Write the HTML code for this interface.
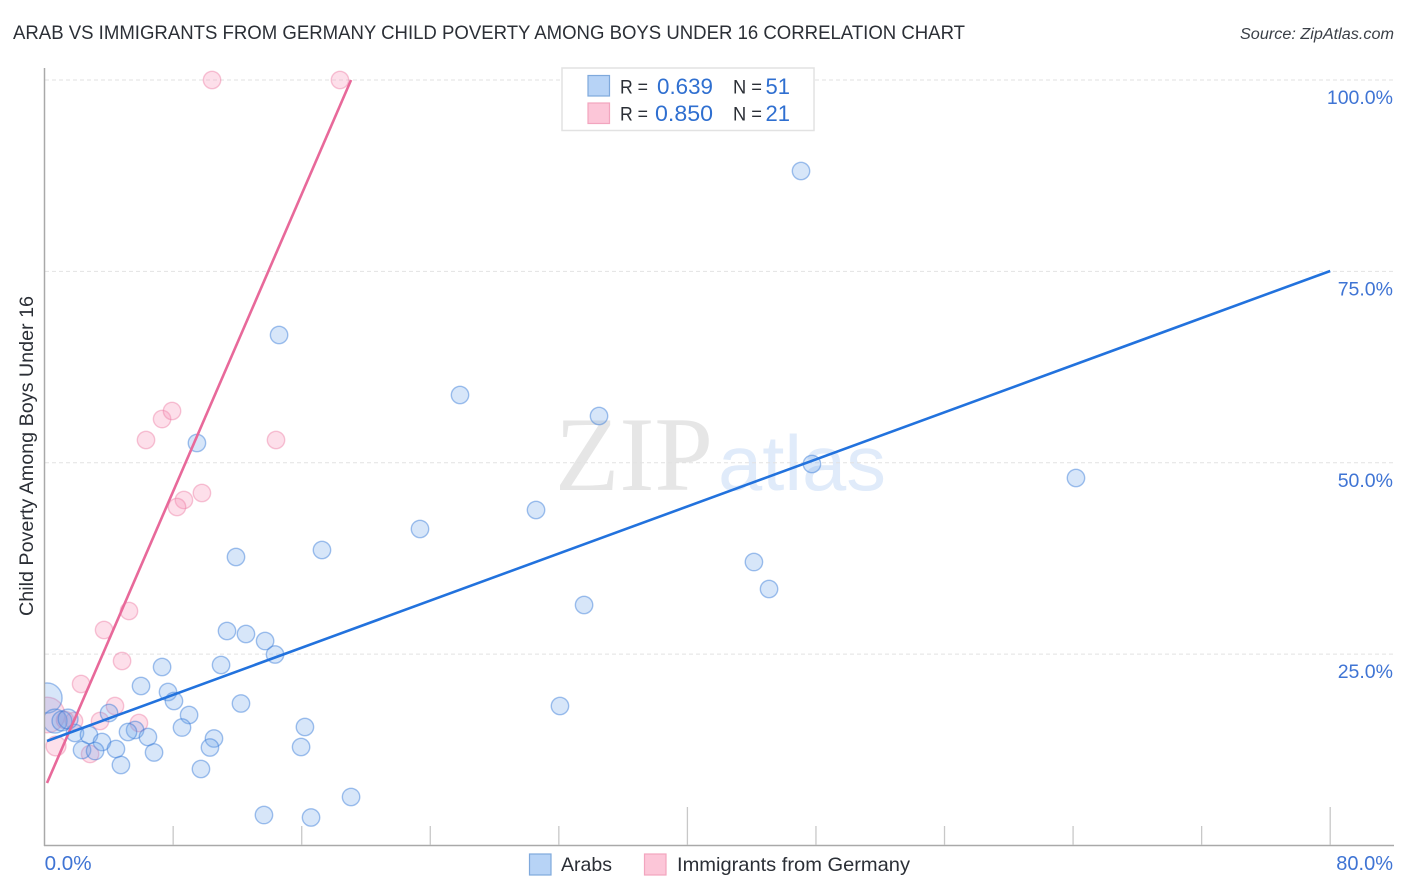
<!DOCTYPE html>
<html lang="en">
<head>
<meta charset="utf-8">
<title>Arab vs Immigrants from Germany Child Poverty Among Boys Under 16 Correlation Chart</title>
<style>
html,body{margin:0;padding:0;background:#fff;}
svg{display:block;font-family:"Liberation Sans",sans-serif;}
</style>
</head>
<body>
<svg id="chart" width="1406" height="892" viewBox="0 0 1406 892" xmlns="http://www.w3.org/2000/svg">
  <rect x="0" y="0" width="1406" height="892" fill="#ffffff"/>
  <text x="13" y="39" font-size="19.5" fill="#2b2f36" textLength="952" lengthAdjust="spacingAndGlyphs">ARAB VS IMMIGRANTS FROM GERMANY CHILD POVERTY AMONG BOYS UNDER 16 CORRELATION CHART</text>
  <text x="1394" y="39" font-size="15.5" font-style="italic" fill="#3a3f47" text-anchor="end" textLength="154" lengthAdjust="spacingAndGlyphs">Source: ZipAtlas.com</text>
  <g>
    <text x="555" y="490" font-family="'Liberation Serif',serif" font-size="106" fill="#e6e6e6" textLength="158" lengthAdjust="spacingAndGlyphs">ZIP</text>
    <text x="718" y="490" font-size="78" fill="#e0ebfa" textLength="168" lengthAdjust="spacingAndGlyphs">atlas</text>
  </g>
  <g id="grid"></g>
  <g id="marks"></g>
  <rect x="0" y="60" width="44.500" height="790" fill="#ffffff"/>
  <g id="axes"></g>
  <g id="trends"></g>
  <text transform="translate(33,456) rotate(-90)" font-size="19" fill="#2b2f36" text-anchor="middle" textLength="320" lengthAdjust="spacingAndGlyphs">Child Poverty Among Boys Under 16</text>

  <g>
    <rect x="562" y="68" width="252" height="62.5" fill="#ffffff" stroke="#e2e2e2" stroke-width="1.5"/>
    <rect x="588" y="75.5" width="21.5" height="20.5" fill="#b7d3f6" stroke="#7fa9dc" stroke-width="1.2"/>
    <rect x="588" y="103" width="21.5" height="20.5" fill="#fcc6d8" stroke="#f2a5bf" stroke-width="1.2"/>
    <text x="620" y="93.500" font-size="19.500" fill="#2b2f36" textLength="28" lengthAdjust="spacingAndGlyphs">R =</text>
    <text x="657" y="94" font-size="22" fill="#2f6fd0" textLength="56" lengthAdjust="spacingAndGlyphs">0.639</text>
    <text x="733" y="93.500" font-size="19.500" fill="#2b2f36" textLength="29" lengthAdjust="spacingAndGlyphs">N =</text>
    <text x="790" y="94" font-size="22" fill="#2f6fd0" text-anchor="end">51</text>
    <text x="620" y="120.500" font-size="19.500" fill="#2b2f36" textLength="28" lengthAdjust="spacingAndGlyphs">R =</text>
    <text x="655" y="121" font-size="22" fill="#2f6fd0" textLength="58" lengthAdjust="spacingAndGlyphs">0.850</text>
    <text x="733" y="120.500" font-size="19.500" fill="#2b2f36" textLength="29" lengthAdjust="spacingAndGlyphs">N =</text>
    <text x="790" y="121" font-size="22" fill="#2f6fd0" text-anchor="end">21</text>
  </g>

  <g>
    <rect x="529.500" y="854" width="21.500" height="21" fill="#b7d3f6" stroke="#7fa9dc" stroke-width="1.2"/>
    <text x="561" y="871" font-size="19.500" fill="#2b2f36" textLength="51" lengthAdjust="spacingAndGlyphs">Arabs</text>
    <rect x="644.500" y="854" width="21.500" height="21" fill="#fcc6d8" stroke="#f2a5bf" stroke-width="1.2"/>
    <text x="677" y="871" font-size="19.500" fill="#2b2f36" textLength="233" lengthAdjust="spacingAndGlyphs">Immigrants from Germany</text>
  </g>
</svg>
<script>
const xTickValues = [0, 8, 16, 24, 32, 40, 48, 56, 64, 72, 80];
const xMajorTicks = [40, 80];
const xEndLabels = ["0.0%", "80.0%"];
const yGridValues = [25, 50, 75, 100];
const yTickLabels = ["25.0%", "50.0%", "75.0%", "100.0%"];

const arabsX = [47.07,14.59,25.85,34.50,9.48,47.75,64.18,30.58,23.36,17.26,11.91,44.14,45.08,33.57,11.35,12.53,13.72,14.34,7.31,10.98,6.00,7.68,8.05,12.22,32.07,8.99,4.01,16.20,8.55,5.63,5.19,1.89,2.76,6.43,10.54,3.57,10.29,15.96,4.44,2.33,3.14,6.81,4.75,9.73,19.07,13.65,16.58,0.15,0.65,1.08,1.46];
const arabsY = [88.11,66.69,58.85,56.11,52.58,49.84,48.01,43.83,41.35,38.60,37.69,37.03,33.51,31.42,28.02,27.63,26.71,24.95,23.32,23.58,20.84,20.05,18.88,18.55,18.22,17.05,17.31,15.48,15.41,15.09,14.83,14.70,14.43,14.17,13.98,13.52,12.80,12.87,12.61,12.48,12.34,12.15,10.52,9.99,6.34,3.98,3.66,19.27,16.26,16.26,16.52];
const arabsWeight = [1,1,1,1,1,1,1,1,1,1,1,1,1,1,1,1,1,1,1,1,1,1,1,1,1,1,1,1,1,1,1,1,1,1,1,1,1,1,1,1,1,1,1,1,1,1,1,3,1.9,1.3,1.3];

const germanyX = [0.15,1.27,1.83,3.45,4.38,2.27,4.82,0.71,2.83,5.87,3.70,5.25,9.79,8.67,8.24,6.31,7.31,7.93,14.40,10.42,18.38];
const germanyY = [17.05,16.39,16.26,16.26,18.22,21.10,24.10,13.00,11.95,16.00,28.15,30.63,46.05,45.13,44.22,52.97,55.71,56.76,52.97,100,100];
const germanyWeight = [4.2,1,1,1,1,1,1,1.3,1,1,1,1,1,1,1,1,1,1,1,1,1];

const arabsTrendX = [0.15, 80];
const arabsTrendY = [13.65, 75.05];
const germanyTrendX = [0.15, 19.07];
const germanyTrendY = [8.16, 100];

const NS = "http://www.w3.org/2000/svg";
function xScale(v){ return 44.6 + v * 16.07; }
function yScale(v){ return 845.5 - v * 7.655; }
function radius(w){ return 8.7 * Math.sqrt(w); }
function make(tag, attrs, parent){
  const el = document.createElementNS(NS, tag);
  for (const k in attrs) el.setAttribute(k, attrs[k]);
  parent.appendChild(el);
  return el;
}
const grid = document.getElementById("grid");
const axes = document.getElementById("axes");
const marks = document.getElementById("marks");
const trends = document.getElementById("trends");

yGridValues.forEach(function(v, i){
  const line = make("line", {x1:45, x2:1394, y1:yScale(v), y2:yScale(v), stroke:"#e2e2e2", "stroke-width":1, "stroke-dasharray":"4 3"}, grid);
  
  
  const label = make("text", {x:1393, y:yScale(v) + 24, "font-size":19.5, fill:"#3f74d4", "text-anchor":"end"}, axes);
  label.textContent = yTickLabels[i];
  
  
});

const yAxis = make("line", {x1:44.5, x2:44.5, y1:68, y2:846, stroke:"#a9a9a9", "stroke-width":1.5}, axes);


const xAxis = make("line", {x1:44, x2:1394, y1:845.5, y2:845.5, stroke:"#a9a9a9", "stroke-width":1.5}, axes);



xTickValues.forEach(function(v){
  if (v === 0) return;
  const tall = xMajorTicks.indexOf(v) >= 0;
  const tick = make("line", {x1:xScale(v), x2:xScale(v), y1:tall ? 807 : 826, y2:845, stroke:"#c8c8c8", "stroke-width":1.3}, axes);
  
  
});

const xLabelLeft = make("text", {x:xScale(xTickValues[0]), y:870, "font-size":20, fill:"#3f74d4", textLength:47, lengthAdjust:"spacingAndGlyphs"}, axes);
xLabelLeft.textContent = xEndLabels[0];


const xLabelRight = make("text", {x:1393, y:870, "font-size":20, fill:"#3f74d4", "text-anchor":"end"}, axes);
xLabelRight.textContent = xEndLabels[1];



germanyX.forEach(function(v, i){
  const c = make("circle", {cx:xScale(v), cy:yScale(germanyY[i]), r:radius(germanyWeight[i]), fill:"rgba(248,150,185,0.30)", stroke:"rgba(235,120,160,0.42)", "stroke-width":1.4}, marks);
  
  
});
arabsX.forEach(function(v, i){
  const c = make("circle", {cx:xScale(v), cy:yScale(arabsY[i]), r:radius(arabsWeight[i]), fill:"rgba(110,165,235,0.28)", stroke:"rgba(50,120,215,0.45)", "stroke-width":1.4}, marks);
  
  
});

const germanyLine = make("line", {x1:xScale(germanyTrendX[0]), y1:yScale(germanyTrendY[0]), x2:xScale(germanyTrendX[1]), y2:yScale(germanyTrendY[1]), stroke:"#e8699a", "stroke-width":2.6}, trends);


const arabsLine = make("line", {x1:xScale(arabsTrendX[0]), y1:yScale(arabsTrendY[0]), x2:xScale(arabsTrendX[1]), y2:yScale(arabsTrendY[1]), stroke:"#2272dd", "stroke-width":2.6}, trends);


</script>
</body>
</html>
